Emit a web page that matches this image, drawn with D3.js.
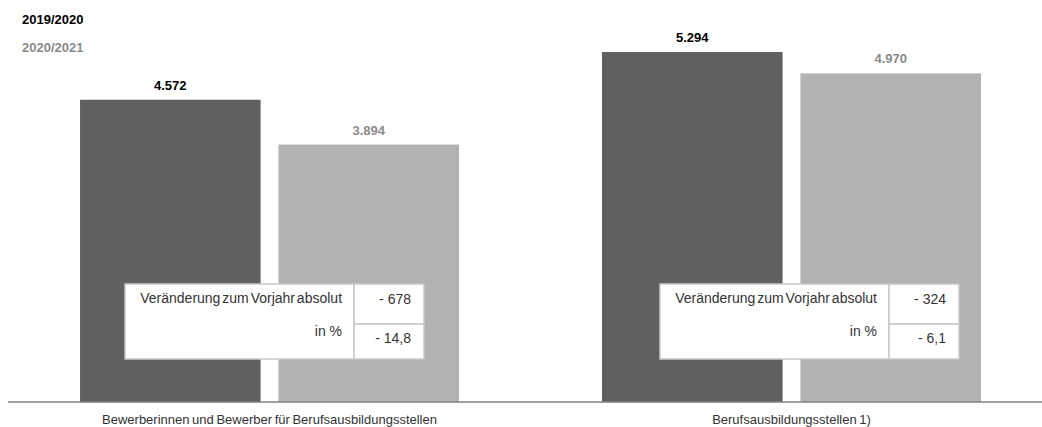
<!DOCTYPE html>
<html>
<head>
<meta charset="utf-8">
<script src="https://cdn.jsdelivr.net/npm/d3@7"></script>
<style>
  body { margin: 0; background: #fff; }
  text { font-family: "Liberation Sans", Arial, sans-serif; }
</style>
</head>
<body>
<div id="vis"></div>
<script>
// data
const categories = ["Bewerberinnen und Bewerber für Berufsausbildungsstellen", "Berufsausbildungsstellen 1)"];
const seriesNames = ["2019/2020", "2020/2021"];
const values2019 = [4572, 5294];
const values2020 = [3894, 4970];
const changeAbs = ["- 678", "- 324"];
const changePct = ["- 14,8", "- 6,1"];
const tableLabels = ["Veränderung zum Vorjahr absolut", "in %"];

const fmt = d3.format(",");
const deFmt = v => fmt(v).replace(/,/g, ".");

const width = 1042, height = 427;
const baseY = 402;
const colors = ["#606060", "#b2b2b2"];
const labelColors = ["#000", "#8a8a8a"];

const svg = d3.select("#vis").append("svg")
  .attr("width", width)
  .attr("height", height);

const x0 = d3.scaleBand()
  .domain(categories)
  .range([8, 1053])
  .paddingInner(0.274)
  .paddingOuter(0.138);

const x1 = d3.scaleBand()
  .domain(seriesNames)
  .range([0, x0.bandwidth()])
  .paddingInner(0.09);

const y = d3.scaleLinear()
  .domain([0, 5294])
  .range([baseY, 52]);

const rows = categories.map((c, i) => ({
  cat: c,
  vals: [
    { s: seriesNames[0], v: values2019[i], k: 0 },
    { s: seriesNames[1], v: values2020[i], k: 1 }
  ]
}));

// bars
const groups = svg.selectAll(".grp")
  .data(rows)
  .join("g")
  .attr("class", "grp")
  .attr("transform", d => `translate(${x0(d.cat)},0)`);

groups.selectAll("rect")
  .data(d => d.vals)
  .join("rect")
  .attr("x", d => x1(d.s))
  .attr("y", d => y(d.v))
  .attr("width", x1.bandwidth())
  .attr("height", d => baseY - y(d.v))
  .attr("fill", d => colors[d.k]);

groups.selectAll(".val")
  .data(d => d.vals)
  .join("text")
  .attr("class", "val")
  .attr("x", d => x1(d.s) + x1.bandwidth() / 2)
  .attr("y", d => y(d.v) - 10)
  .attr("text-anchor", "middle")
  .attr("font-size", "13px")
  .attr("font-weight", "bold")
  .attr("fill", d => labelColors[d.k])
  .text(d => deFmt(d.v));

// change tables
const tableOffset = [45, 58];
const leftW = 229, rightW = 70, tTop = 284, tMid = 324, tBot = 359;

groups.each(function (d, i) {
  const g = d3.select(this).append("g")
    .attr("transform", `translate(${tableOffset[i]},0)`);
  g.append("rect")
    .attr("x", 0).attr("y", tTop)
    .attr("width", leftW).attr("height", tBot - tTop)
    .attr("fill", "#fff").attr("stroke", "#c8c8c8").attr("stroke-width", 1.5);
  g.append("rect")
    .attr("x", leftW).attr("y", tTop)
    .attr("width", rightW).attr("height", tMid - tTop)
    .attr("fill", "#fff").attr("stroke", "#c8c8c8").attr("stroke-width", 1.5);
  g.append("rect")
    .attr("x", leftW).attr("y", tMid)
    .attr("width", rightW).attr("height", tBot - tMid)
    .attr("fill", "#fff").attr("stroke", "#c8c8c8").attr("stroke-width", 1.5);
  g.append("text")
    .attr("x", leftW - 12).attr("y", 303)
    .attr("text-anchor", "end").attr("font-size", "14px").attr("fill", "#333")
    .attr("word-spacing", "-2px")
    .text(tableLabels[0]);
  g.append("text")
    .attr("x", leftW - 12).attr("y", 336)
    .attr("text-anchor", "end").attr("font-size", "14px").attr("fill", "#333")
    .text(tableLabels[1]);
  g.append("text")
    .attr("x", leftW + rightW - 13).attr("y", 304)
    .attr("text-anchor", "end").attr("font-size", "14px").attr("fill", "#333")
    .text(changeAbs[i]);
  g.append("text")
    .attr("x", leftW + rightW - 13).attr("y", 343)
    .attr("text-anchor", "end").attr("font-size", "14px").attr("fill", "#333")
    .text(changePct[i]);
});

// axis
const xAxis = svg.append("g")
  .attr("transform", `translate(0,${baseY})`)
  .call(d3.axisBottom(x0).tickSize(0).tickPadding(13));
xAxis.select(".domain")
  .attr("d", `M8,0H${width}`)
  .attr("stroke", "#808080")
  .attr("stroke-width", 1.5);
xAxis.selectAll(".tick text")
  .attr("font-family", "Liberation Sans, Arial, sans-serif")
  .attr("font-size", "13px")
  .attr("fill", "#333")
  .attr("word-spacing", "-1px");

// legend
svg.selectAll(".legend")
  .data(seriesNames)
  .join("text")
  .attr("class", "legend")
  .attr("x", 22)
  .attr("y", (d, i) => 24 + i * 28)
  .attr("font-size", "13px")
  .attr("font-weight", "bold")
  .attr("fill", (d, i) => labelColors[i])
  .text(d => d);
</script>
</body>
</html>
